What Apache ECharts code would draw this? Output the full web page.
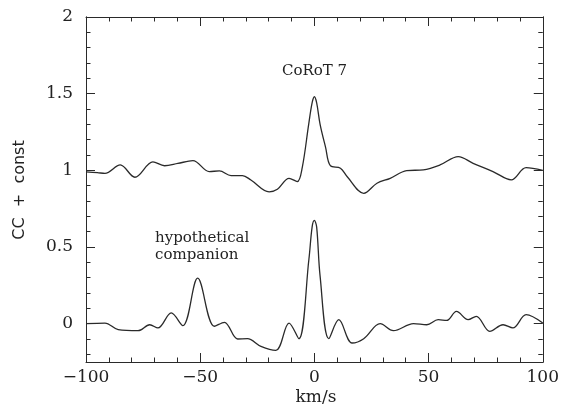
<!DOCTYPE html>
<html>
<head>
<meta charset="utf-8">
<script src="https://cdn.jsdelivr.net/npm/echarts@6/dist/echarts.min.js"></script>
<style>html,body{margin:0;padding:0;background:#fff}#c{width:562px;height:409px}</style>
</head>
<body>
<div id="c"></div>
<script>
// ---- data ----
const xUpper = [-100,-95,-91.7,-85,-78.6,-70.7,-65.6,-59.8,-53.2,-46,-41.6,-36.5,-31.5,-27.8,-19.8,-16.2,-11.1,-7.5,-5.3,-2.5,-1,0,1,2.5,4.9,7,11.4,14.3,21.6,27.4,33.2,40.4,47.7,55,63,69.5,78.2,86.2,92.7,100];
const yUpper = [0.99,0.985,0.98,1.035,0.955,1.055,1.03,1.045,1.063,0.992,0.996,0.966,0.966,0.937,0.86,0.877,0.948,0.927,1.02,1.3,1.44,1.48,1.44,1.3,1.15,1.03,1.014,0.96,0.85,0.916,0.948,0.998,1.003,1.035,1.09,1.046,0.992,0.938,1.018,1.0];
const xLower = [-100,-91.7,-85.9,-77.2,-72.1,-68.5,-62.7,-57.6,-51.1,-43.8,-39.4,-33.6,-29.3,-23.4,-16.9,-11.1,-6.8,-2.4,-1,0,1,2.5,6.3,10.7,16.5,21.6,28.8,34.6,43.4,49.2,54.2,57.9,62.2,67.3,70.9,76.8,82.6,86.9,92.7,100];
const yLower = [0.0,0.004,-0.039,-0.046,-0.007,-0.028,0.07,-0.013,0.297,-0.017,0.009,-0.1,-0.098,-0.148,-0.174,0.004,-0.098,0.42,0.63,0.673,0.63,0.31,-0.098,0.026,-0.126,-0.098,0.0,-0.046,0.0,-0.007,0.026,0.021,0.08,0.026,0.048,-0.05,-0.007,-0.028,0.059,0.004];
const yMajorTicks = [0, 0.5, 1, 1.5, 2];
const yMinorTicks = [-0.2,-0.1,0.1,0.2,0.3,0.4,0.6,0.7,0.8,0.9,1.1,1.2,1.3,1.4,1.6,1.7,1.8,1.9];
const labelUpper = 'CoRoT 7';
const labelLower = ['hypothetical', 'companion'];
const xTitle = 'km/s';
const yTitle = 'CC  +  const';

const ink = '#2a2a2a';
const serif = '"DejaVu Serif", serif';
const pair = (xs, ys) => xs.map((x, i) => [x, ys[i]]);
const fmtX = v => String(v).replace('-', '\u2212');

function xAx(pos, showLabel) {
  return {
    type: 'value', position: pos, min: -100, max: 100, interval: 50,
    axisLine: { show: true, onZero: false, lineStyle: { color: ink, width: 1 } },
    axisTick: { show: true, inside: true, length: 9, lineStyle: { color: ink, width: 1 } },
    minorTick: { show: true, splitNumber: 5, length: 4.5, lineStyle: { color: ink, width: 1 } },
    axisLabel: { show: showLabel, margin: 7, color: '#222', fontFamily: serif, fontSize: 17, formatter: fmtX },
    splitLine: { show: false }
  };
}
function yAx(pos, ticks, len, showLabel) {
  return {
    type: 'value', position: pos, min: -0.25, max: 2,
    axisLine: { show: true, onZero: false, lineStyle: { color: ink, width: 1 } },
    axisTick: { show: true, inside: true, length: len, customValues: ticks, lineStyle: { color: ink, width: 1 } },
    axisLabel: { show: showLabel, customValues: yMajorTicks, margin: 13, color: '#222', fontFamily: serif, fontSize: 17 },
    splitLine: { show: false }
  };
}

const chart = echarts.init(document.getElementById('c'), null, { renderer: 'canvas' });
chart.setOption({
  backgroundColor: '#fff',
  animation: false,
  grid: { left: 86, right: 17, top: 17, bottom: 47 },
  xAxis: [xAx('bottom', true), xAx('top', false)],
  yAxis: [
    yAx('left', yMajorTicks, 9, true),
    yAx('left', yMinorTicks, 4.5, false),
    yAx('right', yMajorTicks, 9, false),
    yAx('right', yMinorTicks, 4.5, false)
  ],
  series: [
    { type: 'line', xAxisIndex: 0, yAxisIndex: 0, data: pair(xUpper, yUpper), smooth: 0.35, showSymbol: false,
      lineStyle: { color: ink, width: 1.3 } },
    { type: 'line', xAxisIndex: 0, yAxisIndex: 0, data: pair(xLower, yLower), smooth: 0.35, showSymbol: false,
      lineStyle: { color: ink, width: 1.3 } }
  ],
  graphic: [
    { type: 'text', left: 282, top: 64, style: { text: labelUpper, font: '15px ' + serif, fill: '#222' } },
    { type: 'text', left: 155, top: 231, style: { text: labelLower[0], font: '15px ' + serif, fill: '#222' } },
    { type: 'text', left: 155, top: 248, style: { text: labelLower[1], font: '15px ' + serif, fill: '#222' } },
    { type: 'text', x: 316, y: 398, style: { text: xTitle, font: '17px ' + serif, fill: '#222', align: 'center', verticalAlign: 'middle' } },
    { type: 'text', x: 20, y: 190, rotation: Math.PI / 2, style: { text: yTitle, font: '16px "DejaVu Sans", sans-serif', fill: '#222', align: 'center', verticalAlign: 'middle' } }
  ]
});
</script>
</body>
</html>
